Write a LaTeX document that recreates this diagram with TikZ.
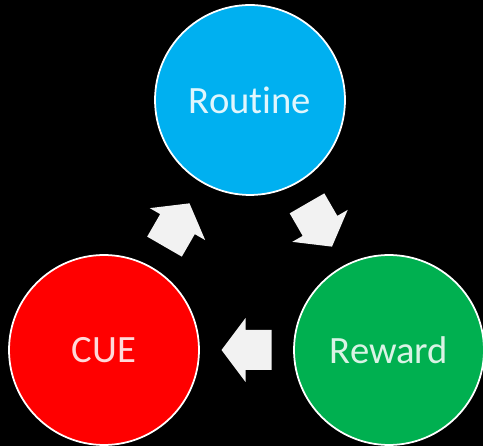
\documentclass[tikz,border=0pt]{standalone}
\usepackage{fontspec}
\setmainfont{Carlito}[Ligatures=NoCommon]
\usetikzlibrary{calc}
\definecolor{routineblue}{RGB}{0,176,240}
\definecolor{cuered}{RGB}{255,0,0}
\definecolor{rewardgreen}{RGB}{0,176,80}
\definecolor{arrowgray}{RGB}{242,242,242}
\tikzset{
    blockarrow/.pic={
      \fill[arrowgray] (-25,-20) -- (1,-20) -- (1,-32) -- (25,0) -- (1,32) -- (1,20) -- (-25,20) -- cycle;
    },
}
\begin{document}
\begin{tikzpicture}[x=0.02cm,y=0.02cm,habit node/.style={circle,draw=white,line width=1pt,minimum size=3.8cm,inner sep=0pt,font=\fontsize{22}{26}\selectfont}]
		\useasboundingbox (0,0) rectangle (483,446);
		\fill[black] (0,0) rectangle (483,446);
		\node[habit node,fill=routineblue,text=white!88!routineblue] (routine) at (250,346) {Routine};
		\node[habit node,fill=cuered,text=white!85!cuered] (cue) at (104,96) {CUE};
		\node[habit node,fill=rewardgreen,text=white!85!rewardgreen] (reward) at (389,96) {Reward};

		\pic[rotate=60] at ($(cue)!0.5!(routine)$) {blockarrow};
		\pic[rotate=-60] at ($(routine)!0.5!(reward)$) {blockarrow};
		\pic[rotate=180] at ($(reward)!0.5!(cue)$) {blockarrow};
	\end{tikzpicture}
\end{document}
